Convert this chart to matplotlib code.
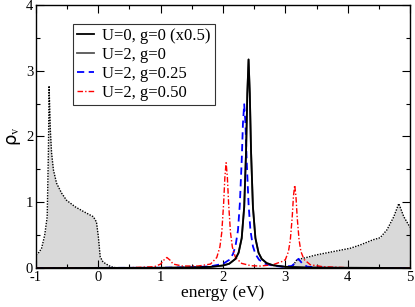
import numpy as np
import matplotlib
matplotlib.use("Agg")
import matplotlib.pyplot as plt
from matplotlib.ticker import MultipleLocator

plt.rcParams["font.family"] = ["Liberation Serif", "DejaVu Serif"]
plt.rcParams["mathtext.fontset"] = "stix"
plt.rcParams["axes.unicode_minus"] = False

# shaded band (lower and upper parts)
band_lo_x = [-1.0, -0.95, -0.91, -0.86, -0.82, -0.80, -0.79, -0.77, -0.75, -0.72, -0.67,
             -0.59, -0.51, -0.37, -0.24, -0.08, -0.03, 0.0, 0.03, 0.07, 0.11, 0.2, 0.3]
band_lo_y = [0.2, 0.24, 0.30, 0.50, 0.78, 1.8, 2.77, 2.1, 1.75, 1.49, 1.29,
             1.14, 1.03, 0.93, 0.86, 0.78, 0.70, 0.48, 0.17, 0.10, 0.07, 0.02, 0.0]
band_hi_x = [3.1, 3.18, 3.25, 3.34, 3.5, 3.77, 4.04, 4.2, 4.41, 4.52, 4.63, 4.74,
             4.82, 4.86, 4.9, 4.95, 5.0]
band_hi_y = [0.0, 0.12, 0.14, 0.16, 0.2, 0.25, 0.30, 0.35, 0.43, 0.46, 0.58, 0.78,
             0.98, 0.88, 0.78, 0.70, 0.62]

# U=2, g=0 peak
g0_x = [-1.0, 1.0, 1.5, 1.8, 2.0, 2.1, 2.2, 2.25, 2.3, 2.34, 2.37, 2.39, 2.41,
        2.43, 2.45, 2.48, 2.52, 2.57, 2.62, 2.7, 2.8, 3.0, 3.3, 3.6, 5.0]
g0_y = [0.0, 0.003, 0.008, 0.017, 0.038, 0.065, 0.139, 0.232, 0.454, 0.927, 1.77, 2.65, 3.17,
        2.65, 1.77, 0.927, 0.454, 0.232, 0.139, 0.075, 0.042, 0.018, 0.008, 0.0045, 0.0]

# U=2, g=0.25
g25_x = [-1.0, 1.0, 1.5, 1.8, 2.0, 2.1, 2.16, 2.2, 2.24, 2.27, 2.3, 2.32, 2.34,
         2.36, 2.38, 2.41, 2.44, 2.48, 2.52, 2.58, 2.68, 2.8, 2.95, 3.1, 3.15,
         3.21, 3.27, 3.35, 3.6, 4.0, 5.0]
g25_y = [0.0, 0.004, 0.011, 0.026, 0.063, 0.124, 0.212, 0.331, 0.572, 0.974, 1.63, 2.2, 2.49,
         2.2, 1.63, 0.974, 0.572, 0.331, 0.212, 0.124, 0.063, 0.035, 0.02, 0.03, 0.07,
         0.14, 0.07, 0.02, 0.005, 0.0, 0.0]

# U=2, g=0.50
g50_x = [-1.0, 0.5, 0.9, 1.0, 1.05, 1.1, 1.15, 1.2, 1.35, 1.6, 1.8, 1.9, 1.95, 1.98,
         2.01, 2.03, 2.05, 2.07, 2.09, 2.12, 2.15, 2.2, 2.3, 2.45, 2.6, 2.8, 2.95,
         3.0, 3.05, 3.08, 3.11, 3.13, 3.15, 3.17, 3.19, 3.22, 3.25, 3.3, 3.4, 3.6,
         4.0, 5.0]
g50_y = [0.0, 0.005, 0.02, 0.06, 0.12, 0.16, 0.12, 0.06, 0.03, 0.03, 0.06, 0.16, 0.32, 0.54,
         0.98, 1.38, 1.6, 1.38, 0.98, 0.54, 0.32, 0.16, 0.07, 0.035, 0.03, 0.05, 0.10,
         0.126, 0.25, 0.43, 0.77, 1.09, 1.26, 1.09, 0.77, 0.43, 0.25, 0.13, 0.05, 0.02,
         0.005, 0.0]

fig = plt.figure(figsize=(4.15, 3.07), dpi=100)
ax = fig.add_axes([0.0867, 0.127, 0.9013, 0.857])

for bx, by in [(band_lo_x, band_lo_y), (band_hi_x, band_hi_y)]:
    ax.fill_between(bx, 0, by, color="#d9d9d9", lw=0, zorder=1)
    ax.plot(bx, by, color="black", lw=1.0, ls=(0, (1, 1)), zorder=2)

ax.plot(g0_x, g0_y, color="#555555", lw=1.3, label="U=2, g=0", zorder=3)
ax.plot(g25_x, g25_y, color="blue", lw=1.3, ls=(0, (4, 2.5)), label="U=2, g=0.25", zorder=4)
ax.plot(g50_x, g50_y, color="red", lw=1.0, ls=(0, (4, 1.5, 1, 1.5)), label="U=2, g=0.50", zorder=4)
ax.plot(g0_x, g0_y, color="black", lw=1.3, label="U=0, g=0 (x0.5)", zorder=5)

h, l = ax.get_legend_handles_labels()
order = [3, 0, 1, 2]
leg = ax.legend([h[i] for i in order], [l[i] for i in order], loc="upper left",
                bbox_to_anchor=(0.099, 0.928), fontsize=12, frameon=True, fancybox=False,
                edgecolor="black", handlelength=1.0, handletextpad=0.5, labelspacing=0.17,
                borderpad=0.25, borderaxespad=0)
leg.get_frame().set_linewidth(0.8)

ax.set_xlim(-1, 5)
ax.set_ylim(0, 4)
ax.xaxis.set_major_locator(MultipleLocator(1))
ax.xaxis.set_minor_locator(MultipleLocator(0.5))
ax.yaxis.set_major_locator(MultipleLocator(1))
ax.yaxis.set_minor_locator(MultipleLocator(0.5))
ax.tick_params(which="both", direction="in", top=True, right=True, labelsize=10.5, width=0.8)
ax.tick_params(which="major", length=5.8, pad=2)
ax.tick_params(which="minor", length=2.9)
for s in ax.spines.values():
    s.set_linewidth(1.0)

ax.set_xlabel("energy (eV)", fontsize=12.5, labelpad=1)
ax.set_ylabel(r"ρ$_\mathrm{v}$", fontsize=13, labelpad=2, family=["DejaVu Sans"])

fig.savefig("out.png", dpi=100)
